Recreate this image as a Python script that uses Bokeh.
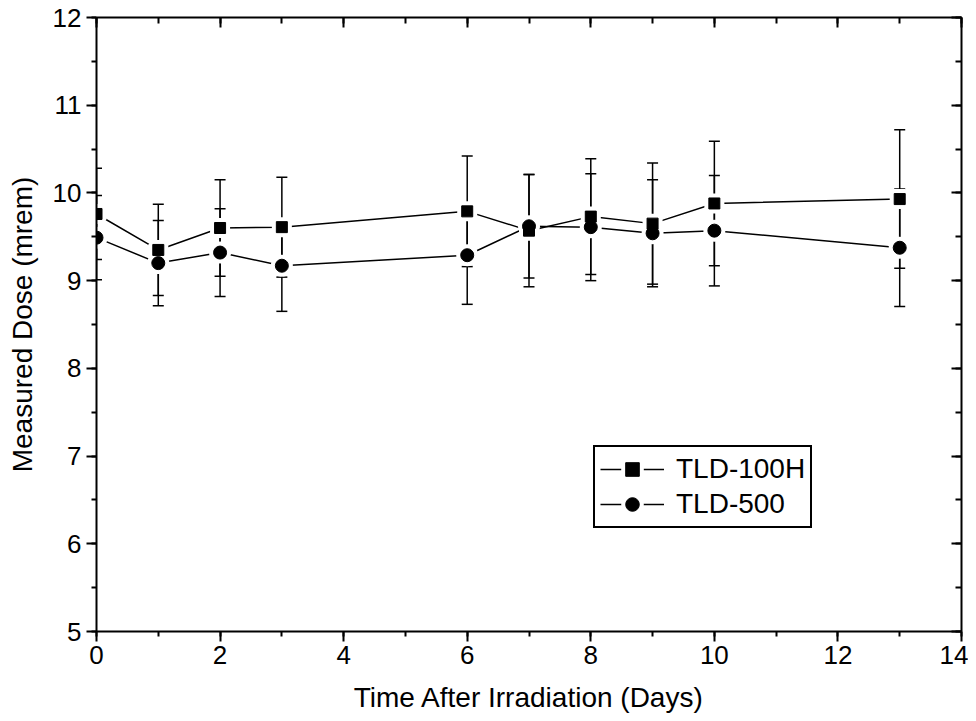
from bokeh.plotting import figure
from bokeh.models import (Range1d, LinearAxis, SingleIntervalTicker, Whisker,
                          ColumnDataSource, Legend, LegendItem, TeeHead,
                          CustomLabelingPolicy)
from bokeh.embed import file_html
from bokeh.resources import INLINE

# ---- data ----
days = [0, 1, 2, 3, 6, 7, 8, 9, 10, 13]
tld100h = [9.76, 9.35, 9.60, 9.61, 9.79, 9.57, 9.73, 9.65, 9.88, 9.93]
tld100h_err = [0.52, 0.52, 0.55, 0.57, 0.63, 0.64, 0.66, 0.69, 0.71, 0.79]
tld500 = [9.49, 9.20, 9.32, 9.17, 9.29, 9.62, 9.61, 9.54, 9.57, 9.375]
tld500_err = [0.48, 0.485, 0.50, 0.52, 0.56, 0.59, 0.61, 0.61, 0.63, 0.67]
series_names = ["TLD-100H", "TLD-500"]
x_title = "Time After Irradiation (Days)"
y_title = "Measured Dose (mrem)"

FONT = "Liberation Sans"

src_a = ColumnDataSource(dict(x=days, y=tld100h,
                              lo=[v - e for v, e in zip(tld100h, tld100h_err)],
                              hi=[v + e for v, e in zip(tld100h, tld100h_err)]))
src_b = ColumnDataSource(dict(x=days, y=tld500,
                              lo=[v - e for v, e in zip(tld500, tld500_err)],
                              hi=[v + e for v, e in zip(tld500, tld500_err)]))

p = figure(width=968, height=720, output_backend="svg", toolbar_location=None,
           x_range=Range1d(0, 14), y_range=Range1d(5, 12),
           min_border_left=96, min_border_right=7, min_border_top=17,
           min_border_bottom=89, background_fill_color="white",
           border_fill_color="white")
p.grid.visible = False
p.outline_line_color = None

xt = SingleIntervalTicker(interval=2, num_minor_ticks=2)
yt = SingleIntervalTicker(interval=1, num_minor_ticks=2)
p.xaxis.ticker = xt
p.yaxis.ticker = yt

for ax in (p.xaxis[0], p.yaxis[0]):
    ax.axis_line_width = 2
    ax.axis_line_color = "black"
    ax.major_tick_line_width = 2
    ax.minor_tick_line_width = 2
    ax.major_tick_out = 10
    ax.major_tick_in = 0
    ax.minor_tick_out = 5
    ax.minor_tick_in = 0
    ax.major_label_text_font = FONT
    ax.major_label_text_font_size = "26px"
    ax.major_label_text_color = "black"
    ax.axis_label_text_font = FONT
    ax.axis_label_text_font_size = "28px"
    ax.axis_label_text_font_style = "normal"
    ax.axis_label_text_color = "black"

p.xaxis.axis_label = x_title
p.yaxis.axis_label = y_title
p.xaxis.major_label_standoff = 4
p.xaxis.axis_label_standoff = 15
p.yaxis.major_label_standoff = 5
p.yaxis.axis_label_standoff = 12

for loc, tick in (("above", xt), ("right", yt)):
    ax = LinearAxis(ticker=tick, axis_line_width=2, axis_line_color="black",
                    major_tick_in=10, major_tick_out=0,
                    minor_tick_in=6, minor_tick_out=0,
                    major_tick_line_width=2, minor_tick_line_width=2,
                    major_label_text_font_size="2px", major_label_standoff=0,
                    major_label_policy=CustomLabelingPolicy(code="return []"))
    p.add_layout(ax, loc)

# connecting lines
la = p.line("x", "y", source=src_a, line_color="black", line_width=1.5)
lb = p.line("x", "y", source=src_b, line_color="black", line_width=1.5)

# white halos give the small gaps between lines and markers
ha = p.scatter("x", "y", source=src_a, marker="square", size=11,
               fill_color="white", line_color="white", line_width=9)
hb = p.scatter("x", "y", source=src_b, marker="circle", size=13,
               fill_color="white", line_color="white", line_width=9)

# error bars
for src in (src_a, src_b):
    w = Whisker(base="x", lower="lo", upper="hi", source=src,
                line_color="black", line_width=1.5,
                upper_head=TeeHead(size=11, line_width=1.5, line_color="black"),
                lower_head=TeeHead(size=11, line_width=1.5, line_color="black"))
    p.add_layout(w)

sa = p.scatter("x", "y", source=src_a, marker="square", size=11,
               fill_color="black", line_color="black")
sb = p.scatter("x", "y", source=src_b, marker="circle", size=13,
               fill_color="black", line_color="black")

legend = Legend(items=[LegendItem(label=series_names[0], renderers=[la, ha, sa]),
                       LegendItem(label=series_names[1], renderers=[lb, hb, sb])],
                location=(497, 103),
                label_text_font=FONT, label_text_font_size="28px",
                label_text_color="black",
                glyph_width=64, glyph_height=34, label_height=34,
                label_standoff=12, padding=5, spacing=1, margin=0,
                border_line_color="black", border_line_width=2,
                border_line_alpha=1.0,
                background_fill_color="white", background_fill_alpha=1.0)
p.add_layout(legend)

open("out.html", "w").write(file_html(p, INLINE))
